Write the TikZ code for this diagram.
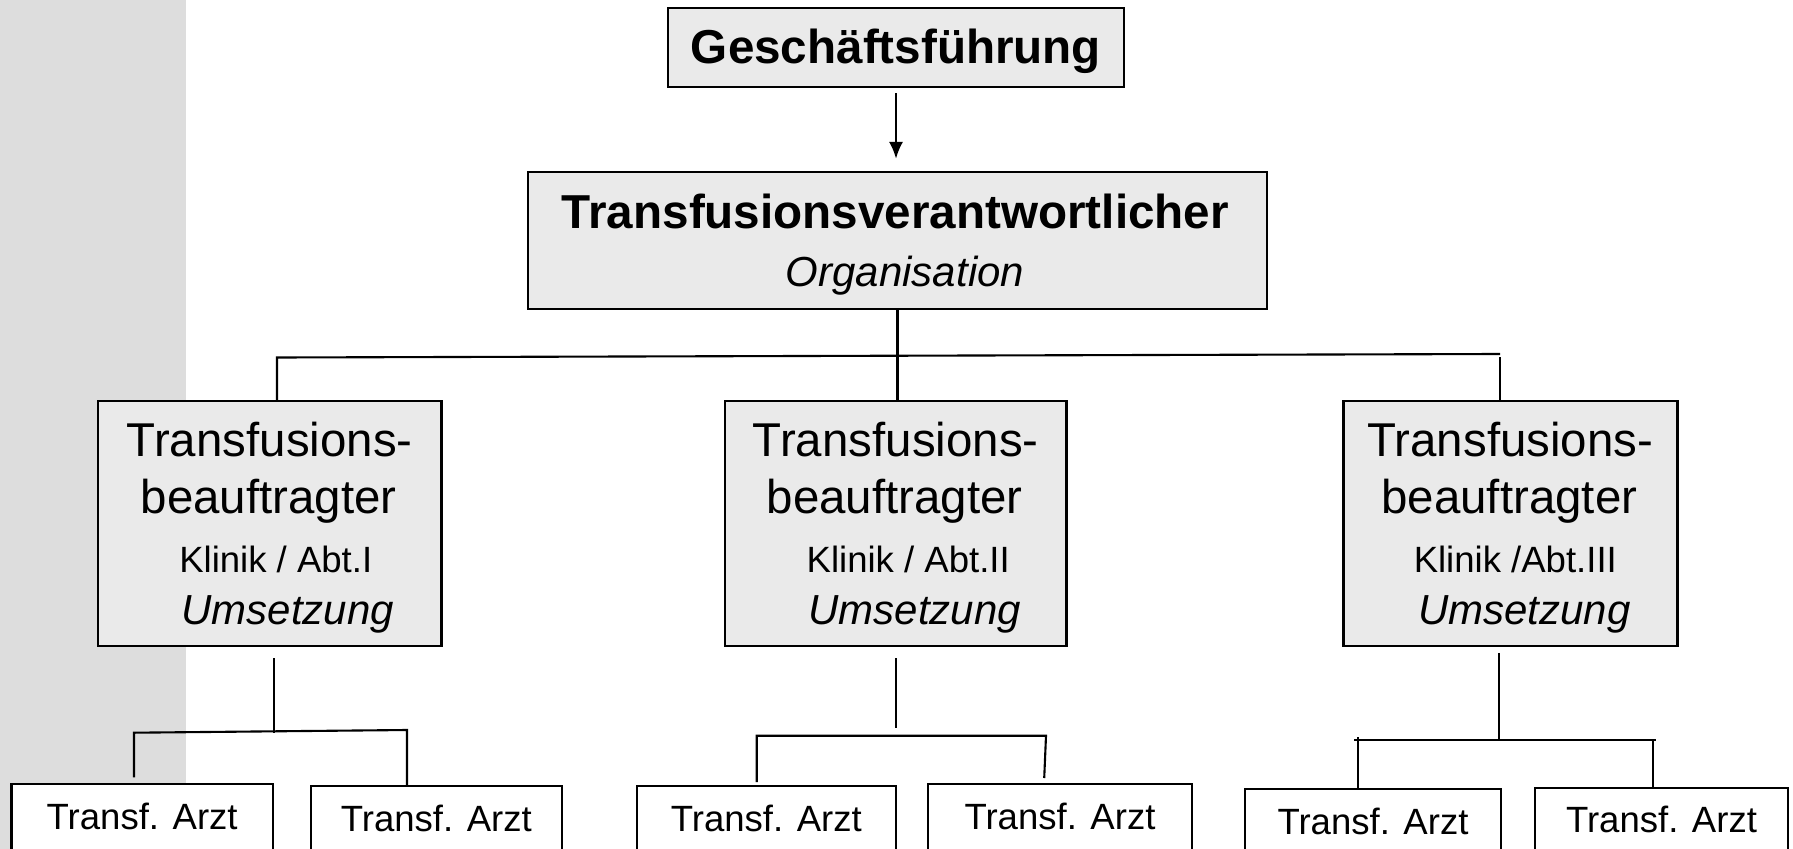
\documentclass[tikz,border=0pt]{standalone}
\usepackage{fontspec}
\setmainfont{Liberation Sans}
\usepackage{tikz}
\usetikzlibrary{arrows.meta}

\definecolor{bandgray}{HTML}{DDDDDD}
\definecolor{boxgray}{HTML}{EAEAEA}
\newcommand\orgTitle{\bfseries\fontsize{13.55}{16}\selectfont}
\newcommand\orgSub{\itshape\fontsize{11.95}{14}\selectfont}
\newcommand\orgBig{\fontsize{13.5}{16}\selectfont}
\newcommand\orgSmall{\fontsize{10.4}{12}\selectfont}

\tikzset{
  chef/.style={draw=black, line width=0.7pt, fill=boxgray, inner sep=0pt},
  arzt/.style={draw=black, line width=0.6pt, fill=white, inner xsep=0pt, inner ysep=0.19cm,
    anchor=north, text height=0.26cm, text depth=0.5cm, font=\orgSmall},
  wire/.style={line width=0.6pt},
}

\begin{document}
\begin{tikzpicture}
%%%%% Frame %%%%%
\useasboundingbox (0,0) rectangle (17.93,-8.49);
\clip (0,0) rectangle (17.93,-8.49);
\fill[bandgray] (0,0) rectangle (1.86,-8.49);

%%%%% Top %%%%%
\node[chef, minimum width=4.56cm, minimum height=0.79cm, text height=0.36cm, text depth=0.03cm,
  font=\orgTitle] (ga) at (8.96,-0.475) {Geschäftsführung};
\node[chef, minimum width=7.39cm, minimum height=1.37cm] (tv) at (8.975,-2.405) {};
\node[anchor=base, font=\orgTitle] (tv-t1) at (8.954,-2.29) {Transfusionsverantwortlicher};
\node[anchor=base, font=\orgSub] (tv-t2) at (9.05,-2.86) {Organisation};
\draw[wire, -{Latex[length=4.8pt,width=4pt]}] ([yshift=-0.05cm]ga.south) -- ([yshift=0.12cm]ga.south |- tv.north);

%%%%% Beauftragte %%%%%
\foreach \n/\cx/\w/\kl/\ks/\us in {1/2.6975/3.435/{Klinik / Abt.I}/0.06/0.18,
    2/8.9575/3.415/{Klinik / Abt.II}/0.125/0.19, 3/15.103/3.34/{Klinik /Abt.III}/0.05/0.14}{
  \node[chef, minimum width=\w cm, minimum height=2.45cm] (tb\n) at (\cx,-5.235) {};
  \node[anchor=base, font=\orgBig] (tb\n-t1) at (\cx,-4.567) {Transfusions-};
  \node[anchor=base, font=\orgBig] (tb\n-t2) at (\cx-0.01,-5.133) {beauftragter};
  \node[anchor=base, font=\orgSmall] (tb\n-t3) at (\cx+\ks,-5.727) {\kl};
  \node[anchor=base, font=\orgSub] (tb\n-t4) at (\cx+\us,-6.24) {Umsetzung};
}
\coordinate (busl) at (2.77,-3.575);
\coordinate (busr) at (15.0,-3.54);
\draw[wire] (tv.south) -- (tv.south |- tb2.north);
\draw[wire] (busl |- tb1.north) -- (busl) -- (busr);
\draw[wire] ([yshift=-0.03cm]busr) -- (busr |- tb3.north);

%%%%% Aerzte %%%%%
\foreach \n/\cx/\top/\w in {1/1.422/7.833/2.613, 2/4.363/7.85/2.505, 3/7.663/7.85/2.593,
    4/10.60/7.83/2.634, 5/13.73/7.88/2.56, 6/16.615/7.867/2.53}{
  \node[arzt, minimum width=\w cm] (a\n) at (\cx,-\top) {Transf. Arzt};
}
\coordinate (b1l) at (1.34,-7.327);
\coordinate (b1r) at (4.07,-7.30);
\coordinate (b2l) at (7.567,-7.357);
\coordinate (b2r) at (10.46,-7.357);
\coordinate (b3l) at (13.54,-7.40);
\coordinate (b3r) at (16.555,-7.40);
\coordinate (b3d) at (13.582,-7.37);
\coordinate (b3e) at (16.53,-7.40);
\draw[wire] ([xshift=0.04cm,yshift=-0.11cm]tb1.south) -- ++(0,-0.747);
\draw[wire, shorten <=0.06cm] (b1l |- a1.north) -- (b1l) -- (b1r) -- (b1r |- a2.north);
\draw[wire] ([yshift=-0.11cm]tb2.south) -- ++(0,-0.70);
\draw[wire, shorten <=0.03cm, shorten >=0.05cm] (b2l |- a3.north) -- (b2l) -- (b2r) -- ([xshift=-0.02cm]b2r |- a4.north);
\draw[wire] ([xshift=-0.117cm,yshift=-0.057cm]tb3.south) -- ++(0,-0.883);
\draw[wire] (b3d) -- (b3d |- a5.north);
\draw[wire] (b3l) -- (b3r);
\draw[wire] (b3e) -- (b3e |- a6.north);
\end{tikzpicture}
\end{document}
